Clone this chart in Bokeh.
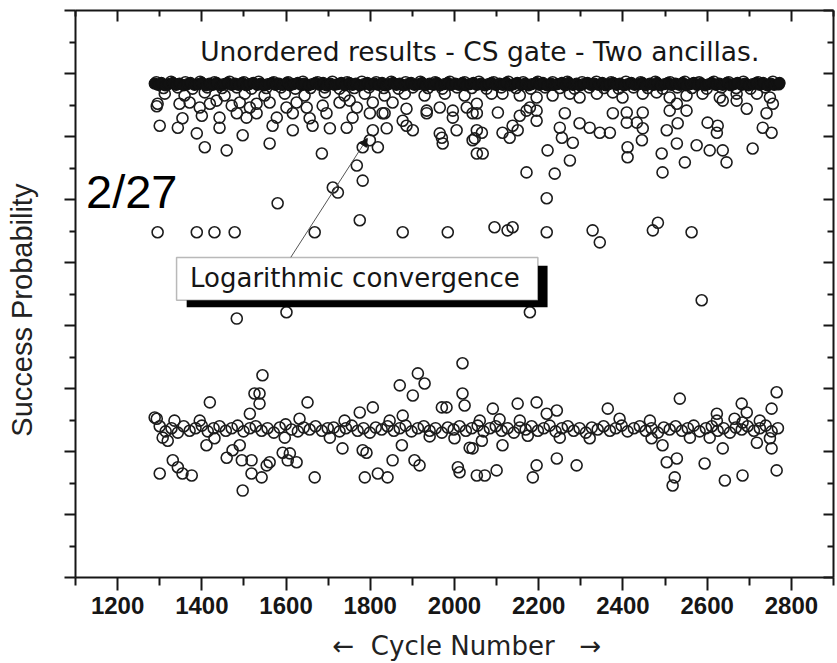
from bokeh.plotting import figure
from bokeh.models import (FixedTicker, LinearAxis, Label, BoxAnnotation, Arrow,
                          NormalHead, CustomJSTickFormatter, Range1d)
from bokeh.embed import file_html
from bokeh.resources import INLINE

# ---------------- data ----------------
x_ticks = [1200, 1400, 1600, 1800, 2000, 2200, 2400, 2600, 2800]
x_minor = [1100, 1300, 1500, 1700, 1900, 2100, 2300, 2500, 2700, 2900]
y_ticks = [0.0, 0.1, 0.2, 0.3, 0.4, 0.5, 0.6, 0.7, 0.8, 0.9]
y_minor = [0.05, 0.15, 0.25, 0.35, 0.45, 0.55, 0.65, 0.75, 0.85]

# converged level (dense band)
band_x = [1288, 1296, 1304, 1313, 1321, 1331, 1339, 1347, 1357, 1366,
          1373, 1383, 1391, 1400, 1410, 1418, 1426, 1435, 1445, 1452,
          1461, 1471, 1479, 1487, 1496, 1506, 1513, 1522, 1532, 1540,
          1548, 1557, 1567, 1575, 1583, 1592, 1602, 1609, 1618, 1628,
          1636, 1643, 1653, 1662, 1670, 1680, 1688, 1696, 1705, 1715,
          1723, 1731, 1740, 1750, 1758, 1766, 1775, 1785, 1793, 1800,
          1810, 1819, 1828, 1836, 1844, 1854, 1862, 1870, 1880, 1889,
          1897, 1905, 1915, 1923, 1931, 1941, 1950, 1958, 1966, 1976,
          1984, 1992, 2002, 2011, 2019, 2027, 2037, 2045, 2053, 2063,
          2072, 2080, 2088, 2098, 2107, 2115, 2123, 2133, 2141, 2149,
          2159, 2168, 2176, 2184, 2194, 2202, 2210, 2220, 2229, 2237,
          2245, 2255, 2263, 2271, 2281, 2290, 2298, 2306, 2316, 2324,
          2332, 2342, 2351, 2359, 2367, 2377, 2385, 2393, 2403, 2412,
          2420, 2428, 2438, 2446, 2454, 2464, 2473, 2481, 2489, 2499,
          2507, 2515, 2525, 2534, 2542, 2550, 2560, 2568, 2576, 2586,
          2595, 2603, 2611, 2621, 2629, 2637, 2647, 2656, 2664, 2672,
          2682, 2690, 2698, 2708, 2717, 2725, 2733, 2743, 2751, 2759,
          2768, 2772]
band_y = [.784, .782, .785, .781, .783, .785, .782, .784, .781, .783,
          .785, .782, .783, .785, .781, .784, .782, .785, .781, .783,
          .785, .782, .784, .782, .785, .781, .783, .785, .782, .784,
          .781, .783, .785, .782, .784, .782, .785, .781, .783, .785,
          .782, .784, .781, .783, .785, .782, .785, .781, .784, .782,
          .783, .785, .781, .785, .782, .784, .781, .783, .785, .782,
          .784, .782, .785, .781, .783, .785, .782, .784, .781, .783,
          .785, .782, .783, .785, .781, .784, .782, .785, .781, .783,
          .785, .782, .784, .782, .785, .781, .783, .785, .782, .784,
          .781, .783, .785, .782, .784, .782, .785, .781, .783, .785,
          .782, .784, .781, .783, .785, .782, .785, .781, .784, .782,
          .783, .785, .781, .785, .782, .784, .781, .783, .785, .782,
          .784, .782, .785, .781, .783, .785, .782, .784, .781, .783,
          .785, .782, .783, .785, .781, .784, .782, .785, .781, .783,
          .785, .782, .784, .782, .785, .781, .783, .785, .782, .784,
          .781, .783, .785, .782, .784, .782, .785, .781, .783, .785,
          .782, .784, .781, .783, .785, .782, .785, .781, .784, .782,
          .783, .785]
band2_x = [1292, 1309, 1327, 1343, 1361, 1378, 1396, 1413, 1430, 1448,
           1466, 1483, 1500, 1518, 1535, 1553, 1571, 1588, 1605, 1622,
           1640, 1658, 1675, 1692, 1710, 1727, 1745, 1762, 1780, 1797,
           1814, 1832, 1850, 1867, 1884, 1901, 1919, 1937, 1954, 1971,
           1989, 2006, 2024, 2041, 2058, 2076, 2093, 2111, 2128, 2146,
           2163, 2181, 2198, 2215, 2233, 2250, 2268, 2285, 2303, 2320,
           2337, 2355, 2372, 2390, 2407, 2425, 2442, 2459, 2477, 2494,
           2512, 2529, 2547, 2564, 2581, 2599, 2616, 2634, 2651, 2669,
           2686, 2703, 2721, 2738, 2756, 2770]
band2_y = [.786, .777, .787, .778, .786, .776, .787, .778, .786, .777,
           .787, .778, .786, .776, .787, .777, .786, .778, .786, .776,
           .787, .777, .786, .778, .787, .776, .786, .777, .787, .778,
           .786, .777, .787, .776, .786, .778, .787, .777, .786, .776,
           .787, .778, .786, .777, .787, .776, .786, .778, .787, .777,
           .786, .776, .787, .778, .786, .777, .787, .776, .786, .778,
           .787, .777, .786, .776, .787, .778, .786, .777, .787, .776,
           .786, .778, .787, .777, .786, .776, .787, .778, .786, .777,
           .787, .776, .786, .778, .787, .783]

# scatter just below the converged level
up_x = [1295, 1293, 1347, 1371, 1395, 1419, 1435, 1471, 1490, 1514, 1530, 1561, 1601, 1625,
        1649, 1687, 1727, 1751, 1768, 1806, 1829, 1853, 1886, 1934, 1965, 1996, 2029,
        1354, 1400, 1442, 1483, 1506, 1530, 1578, 1616, 1656, 1696, 1758, 1799, 1834, 1877,
        1934, 1996, 2043,
        1300, 1343, 1388, 1442, 1497, 1568, 1616, 1663, 1704, 1744, 1806, 1839, 1886, 1901,
        1965, 2005,
        1407, 1459, 1561, 1685, 1782, 1818, 1799, 1768, 1782, 1711, 1723, 1580, 1775, 1970,
        1972, 2043, 2053,
        1312, 1359, 1407, 1454, 1502, 1549, 1597, 1644, 1692, 1739, 1787, 1834, 1882, 1929,
        1977, 2024,
        2053, 2088, 2114, 2155, 2195, 2233, 2274, 2297, 2338, 2376, 2399, 2447, 2480, 2511,
        2551, 2589, 2630, 2670, 2718, 2749,
        2053, 2053, 2065, 2048, 2067, 2103, 2114, 2131, 2138, 2150,
        2155, 2171, 2179, 2195, 2195, 2171, 2238, 2221, 2219, 2250,
        2255, 2262, 2281, 2274, 2297, 2321, 2345, 2369, 2376, 2409,
        2409, 2411, 2411, 2433, 2447, 2447, 2445, 2492, 2494, 2504,
        2530, 2528, 2547, 2511, 2528, 2551, 2575, 2601, 2606, 2625,
        2623, 2637, 2646, 2637, 2670, 2694, 2708, 2732, 2741, 2753,
        2756]
up_y = [0.752, 0.748, 0.752, 0.754, 0.746, 0.752, 0.757, 0.749, 0.754, 0.746, 0.752, 0.754,
        0.746, 0.754, 0.746, 0.749, 0.754, 0.757, 0.746, 0.754, 0.737, 0.754, 0.744, 0.741,
        0.746, 0.741, 0.746,
        0.729, 0.733, 0.730, 0.737, 0.730, 0.737, 0.730, 0.737, 0.729, 0.737, 0.730, 0.737,
        0.737, 0.725, 0.737, 0.730, 0.737,
        0.717, 0.714, 0.705, 0.714, 0.702, 0.717, 0.710, 0.717, 0.713, 0.714, 0.710, 0.713,
        0.717, 0.710, 0.705, 0.710,
        0.683, 0.678, 0.689, 0.673, 0.683, 0.683, 0.694, 0.654, 0.630, 0.619, 0.611, 0.594,
        0.567, 0.698, 0.689, 0.694, 0.673,
        0.768, 0.765, 0.770, 0.765, 0.768, 0.765, 0.768, 0.765, 0.770, 0.765, 0.768, 0.765,
        0.768, 0.765, 0.768, 0.765,
        0.752, 0.768, 0.768, 0.765, 0.762, 0.765, 0.768, 0.762, 0.768, 0.770, 0.762, 0.768,
        0.770, 0.762, 0.765, 0.768, 0.762, 0.768, 0.768, 0.762,
        0.737, 0.710, 0.706, 0.697, 0.673, 0.738, 0.706, 0.698, 0.717, 0.710,
        0.733, 0.741, 0.746, 0.741, 0.725, 0.643, 0.641, 0.678, 0.602, 0.714,
        0.698, 0.737, 0.690, 0.662, 0.721, 0.714, 0.706, 0.706, 0.737, 0.738,
        0.722, 0.683, 0.667, 0.722, 0.738, 0.713, 0.694, 0.673, 0.643, 0.710,
        0.721, 0.689, 0.659, 0.741, 0.752, 0.741, 0.686, 0.722, 0.678, 0.717,
        0.706, 0.678, 0.659, 0.757, 0.757, 0.744, 0.681, 0.714, 0.737, 0.706,
        0.752]

# the 2/27 level and isolated points in the middle
mid_x = [1295, 1388, 1430, 1478, 1668, 1877, 1984, 2095, 2126, 2138,
         2219, 2328, 2345, 2471, 2483, 2563, 1483, 1601, 2179, 2587]
mid_y = [0.548, 0.548, 0.548, 0.548, 0.548, 0.548, 0.548, 0.556, 0.551, 0.556,
         0.548, 0.551, 0.532, 0.551, 0.563, 0.548, 0.411, 0.421, 0.421, 0.440]

# lower level (dense line)
cen_x = [1288, 1300, 1314, 1328, 1343, 1357, 1371, 1385, 1400, 1414,
         1428, 1442, 1457, 1471, 1485, 1499, 1514, 1528, 1542, 1556,
         1571, 1585, 1599, 1613, 1628, 1642, 1656, 1670, 1685, 1699,
         1713, 1727, 1742, 1756, 1770, 1784, 1799, 1813, 1827, 1841,
         1856, 1870, 1884, 1898, 1913, 1927, 1941, 1955, 1970, 1984,
         1998, 2012, 2027, 2041, 2055, 2069, 2084, 2098, 2112, 2126,
         2141, 2155, 2169, 2183, 2198, 2212, 2226, 2240, 2255, 2269,
         2283, 2297, 2312, 2326, 2340, 2354, 2369, 2383, 2397, 2411,
         2426, 2440, 2454, 2468, 2483, 2497, 2511, 2525, 2540, 2554,
         2568, 2582, 2597, 2611, 2625, 2639, 2654, 2668, 2682, 2696,
         2711, 2725, 2739, 2753, 2768,
         1335, 1430, 1632, 1704, 1846, 2000, 2155, 2250, 2392, 2559,
         2665, 2749, 1395, 1597, 1739, 1941, 2107, 2321, 2464, 2606]
cen_y = [.254, .240, .232, .237, .230, .240, .233, .237, .241, .232,
         .237, .240, .233, .237, .241, .232, .237, .240, .233, .237,
         .230, .238, .243, .235, .232, .238, .235, .240, .233, .237,
         .238, .232, .237, .241, .233, .237, .230, .238, .235, .240,
         .233, .237, .241, .232, .237, .240, .233, .237, .230, .238,
         .235, .240, .233, .237, .241, .232, .237, .240, .233, .237,
         .230, .238, .235, .240, .233, .237, .241, .232, .237, .240,
         .233, .237, .230, .238, .235, .240, .233, .237, .241, .232,
         .237, .240, .233, .237, .230, .238, .235, .240, .233, .237,
         .241, .232, .237, .240, .233, .237, .230, .238, .235, .240,
         .233, .237, .241, .232, .237,
         .249, .221, .252, .222, .249, .221, .249, .222, .252, .222,
         .252, .221, .249, .222, .249, .224, .251, .221, .249, .222]

# scatter around the lower level
low_x = [1544, 1913, 1929, 1870, 1901, 2019, 2019, 2024, 1981, 1970,
         1525, 1537, 1537, 1514, 1419, 1651, 1775, 1806, 1293, 1877,
         1307, 1319, 1411, 1490, 1473, 1459, 1495, 1518, 1561, 1554,
         1592, 1609, 1625, 1604, 1734, 1782, 1791, 1875, 1853, 1905,
         1917, 2036, 1331, 1343, 1354, 1376, 1300, 1518, 1542, 1497,
         1668, 1787, 1818, 1841, 2008, 2012, 2053, 2091, 2150, 2195,
         2219, 2243, 2364, 2535, 2623, 2623, 2682, 2694, 2753, 2765,
         2060, 2043, 2065, 2114, 2174, 2243, 2290, 2195, 2186, 2072,
         2100, 2468, 2494, 2504, 2528, 2523, 2518, 2594, 2637, 2642,
         2684, 2718, 2753, 2765, 2725, 2684]
low_y = [0.321, 0.324, 0.308, 0.305, 0.289, 0.340, 0.292, 0.273, 0.270, 0.270,
         0.292, 0.292, 0.276, 0.260, 0.278, 0.278, 0.262, 0.270, 0.252, 0.257,
         0.222, 0.217, 0.210, 0.210, 0.202, 0.190, 0.186, 0.186, 0.183, 0.178,
         0.198, 0.197, 0.183, 0.186, 0.205, 0.202, 0.198, 0.210, 0.186, 0.186,
         0.178, 0.206, 0.186, 0.175, 0.165, 0.162, 0.165, 0.165, 0.159, 0.138,
         0.159, 0.159, 0.165, 0.159, 0.175, 0.167, 0.162, 0.268, 0.276, 0.278,
         0.260, 0.265, 0.268, 0.284, 0.260, 0.249, 0.276, 0.262, 0.268, 0.294,
         0.249, 0.205, 0.217, 0.210, 0.225, 0.189, 0.178, 0.178, 0.159, 0.162,
         0.170, 0.221, 0.210, 0.183, 0.189, 0.159, 0.146, 0.181, 0.205, 0.154,
         0.162, 0.214, 0.205, 0.170, 0.249, 0.246]

# ---------------- figure ----------------
INK = "#161616"
p = figure(width=837, height=663, output_backend="svg", toolbar_location=None,
           x_range=Range1d(1100, 2900), y_range=Range1d(0, 0.9),
           min_border_left=75, min_border_right=4, min_border_top=10,
           min_border_bottom=86, background_fill_color="white",
           border_fill_color="white")
p.outline_line_color = None
p.xgrid.visible = False
p.ygrid.visible = False

xt = FixedTicker(ticks=x_ticks, minor_ticks=x_minor)
yt = FixedTicker(ticks=y_ticks, minor_ticks=y_minor)
blank = CustomJSTickFormatter(code="return '';")


def style(ax, tin, tout, min_in, min_out):
    ax.axis_line_color = INK
    ax.axis_line_width = 2
    ax.major_tick_line_color = INK
    ax.major_tick_line_width = 2
    ax.minor_tick_line_color = INK
    ax.minor_tick_line_width = 2
    ax.major_tick_in = tin
    ax.major_tick_out = tout
    ax.minor_tick_in = min_in
    ax.minor_tick_out = min_out


# bottom axis
xa = p.xaxis[0]
xa.ticker = xt
style(xa, 0, 13, 0, 8)
xa.major_label_text_font = "Liberation Sans"
xa.major_label_text_font_style = "bold"
xa.major_label_text_font_size = "24px"
xa.major_label_text_color = INK
xa.major_label_standoff = 6
xa.axis_label = "\u00a0\u00a0\u00a0\u2190\u00a0\u00a0Cycle Number\u00a0\u00a0\u00a0\u2192"
xa.axis_label_text_font = "DejaVu Sans"
xa.axis_label_text_font_style = "normal"
xa.axis_label_text_font_size = "26px"
xa.axis_label_text_color = "#222222"
xa.axis_label_standoff = 14

# left axis
ya = p.yaxis[0]
ya.ticker = yt
ya.formatter = blank
style(ya, 0, 11, 0, 6)
ya.major_label_text_font_size = "0px"
ya.major_label_standoff = 0
ya.axis_label = "Success Probability\u00a0\u00a0\u00a0\u00a0"
ya.axis_label_text_font = "Liberation Sans"
ya.axis_label_text_font_style = "normal"
ya.axis_label_text_font_size = "29px"
ya.axis_label_text_color = "#222222"
ya.axis_label_standoff = 27

# top and right axes (ticks pointing inwards)
top = LinearAxis(ticker=xt, formatter=blank)
style(top, 11, 0, 6, 0)
top.major_label_text_font_size = "0px"
top.major_label_standoff = 0
p.add_layout(top, "above")

right = LinearAxis(ticker=yt, formatter=blank)
style(right, 10, 0, 6, 0)
right.major_label_text_font_size = "0px"
right.major_label_standoff = 0
p.add_layout(right, "right")

# points (hollow circles)
for xs, ys in [(low_x, low_y), (cen_x, cen_y), (mid_x, mid_y), (up_x, up_y),
               (band2_x, band2_y)]:
    n = min(len(xs), len(ys))
    p.scatter(x=xs[:n], y=ys[:n], marker="circle", size=11, line_width=1.6,
              line_color="#1c1c1c", fill_color=None)
# the converged level is so densely overplotted that it prints as a solid bar
n = min(len(band_x), len(band_y))
p.scatter(x=band_x[:n], y=band_y[:n], marker="circle", size=11, line_width=1.2,
          line_color="#111111", fill_color="#111111")

# annotations
p.add_layout(Arrow(end=NormalHead(size=8, fill_color=INK, line_color=INK),
                   x_start=1611, y_start=0.508, x_end=1793, y_end=0.697,
                   line_color="#555555", line_width=1))
p.add_layout(BoxAnnotation(left=1364, right=2221, top=0.495, bottom=0.429,
                           fill_color="black", fill_alpha=1.0, line_color=None))
p.add_layout(BoxAnnotation(left=1340, right=2198, top=0.508, bottom=0.440,
                           fill_color="white", fill_alpha=1.0,
                           line_color=INK, line_width=1.5))
p.add_layout(Label(x=1372, y=0.475, text="Logarithmic convergence",
                   text_font="DejaVu Sans", text_font_size="26px",
                   text_color=INK, text_baseline="alphabetic", text_align="left"))
p.add_layout(Label(x=1396, y=0.835, text="Unordered results - CS gate - Two ancillas.",
                   text_font="DejaVu Sans", text_font_size="26.5px",
                   text_color=INK, text_baseline="alphabetic", text_align="left"))
p.add_layout(Label(x=1125, y=0.613, text="2/27",
                   text_font="Liberation Sans", text_font_size="47px",
                   text_color="black", text_baseline="alphabetic", text_align="left"))

open("out.html", "w").write(file_html(p, INLINE))
